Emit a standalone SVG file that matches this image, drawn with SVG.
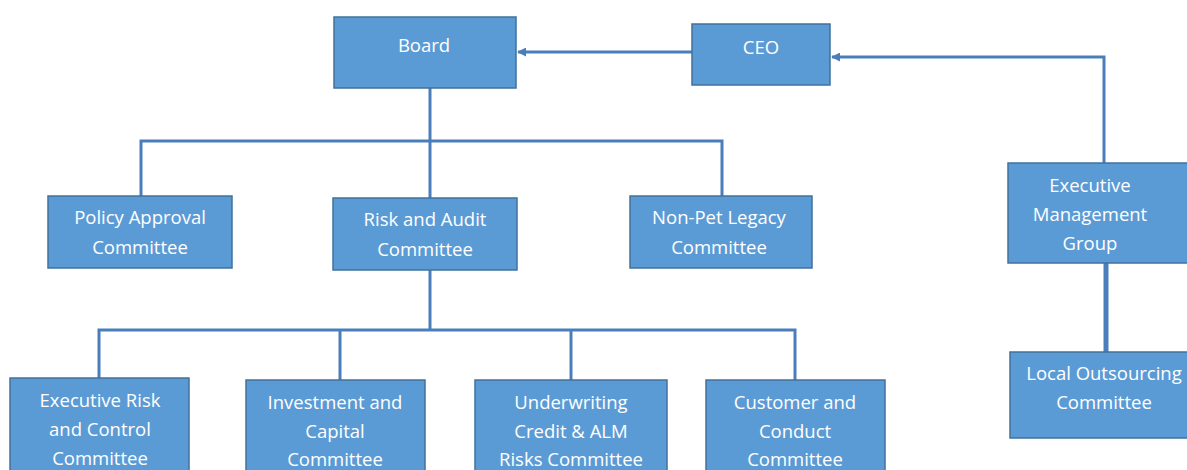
<svg xmlns="http://www.w3.org/2000/svg" width="1187" height="470" viewBox="0 0 1187 470">
  <style>
    .box { fill: #5B9BD5; stroke: #41719C; stroke-width: 1.5; }
    .lbl { fill: #FFFFFF; font-family: "Open Sans", "Liberation Sans", sans-serif; font-size: 18.5px; text-anchor: middle; }
    .wire { fill: none; stroke: #4A7EBB; stroke-width: 3; }
  </style>
  <defs>
    <marker id="head" viewBox="0 0 10 10" refX="9" refY="5" markerWidth="3" markerHeight="3" orient="auto">
      <path d="M0,0 L10,5 L0,10 z" fill="#4A7EBB"/>
    </marker>
  </defs>
  <rect width="1187" height="470" fill="#FFFFFF"/>

  <g id="connectors">
    <path class="wire" d="M692,52 H518" marker-end="url(#head)"/>
    <path class="wire" d="M1104,163 V57 H832" marker-end="url(#head)"/>
    <path class="wire" d="M430,88 V198"/>
    <path class="wire" d="M141,196 V141 H722 V196"/>
    <path class="wire" d="M430,270 V330"/>
    <path class="wire" d="M99,378 V330 H795 V380"/>
    <path class="wire" d="M340,330 V380"/>
    <path class="wire" d="M571,330 V380"/>
    <path class="wire" style="stroke-width:5" d="M1106,263 V352"/>
  </g>

  <g id="board">
    <rect class="box" x="334" y="17" width="182" height="71"/>
    <text class="lbl" x="424" y="52">Board</text>
  </g>
  <g id="ceo">
    <rect class="box" x="692" y="24" width="138" height="61"/>
    <text class="lbl" x="761" y="54">CEO</text>
  </g>
  <g id="policy-approval">
    <rect class="box" x="48" y="196" width="184" height="72"/>
    <text class="lbl" x="140" y="224">Policy Approval</text>
    <text class="lbl" x="140" y="254">Committee</text>
  </g>
  <g id="risk-audit">
    <rect class="box" x="333" y="198" width="184" height="72"/>
    <text class="lbl" x="425" y="226">Risk and Audit</text>
    <text class="lbl" x="425" y="256">Committee</text>
  </g>
  <g id="non-pet-legacy">
    <rect class="box" x="630" y="196" width="182" height="72"/>
    <text class="lbl" x="719" y="224">Non-Pet Legacy</text>
    <text class="lbl" x="719" y="254">Committee</text>
  </g>
  <g id="exec-mgmt-group">
    <rect class="box" x="1008" y="163" width="185" height="100"/>
    <text class="lbl" x="1090" y="192">Executive</text>
    <text class="lbl" x="1090" y="221">Management</text>
    <text class="lbl" x="1090" y="250">Group</text>
  </g>
  <g id="local-outsourcing">
    <rect class="box" x="1010" y="352" width="183" height="86"/>
    <text class="lbl" x="1104" y="380">Local Outsourcing</text>
    <text class="lbl" x="1104" y="409">Committee</text>
  </g>
  <g id="exec-risk-control">
    <rect class="box" x="10" y="378" width="179" height="100"/>
    <text class="lbl" x="100" y="407">Executive Risk</text>
    <text class="lbl" x="100" y="436">and Control</text>
    <text class="lbl" x="100" y="465">Committee</text>
  </g>
  <g id="investment-capital">
    <rect class="box" x="246" y="380" width="179" height="100"/>
    <text class="lbl" x="335" y="409">Investment and</text>
    <text class="lbl" x="335" y="438">Capital</text>
    <text class="lbl" x="335" y="466">Committee</text>
  </g>
  <g id="underwriting-credit-alm">
    <rect class="box" x="475" y="380" width="192" height="100"/>
    <text class="lbl" x="571" y="409">Underwriting</text>
    <text class="lbl" x="571" y="438">Credit &amp; ALM</text>
    <text class="lbl" x="571" y="466">Risks Committee</text>
  </g>
  <g id="customer-conduct">
    <rect class="box" x="706" y="380" width="179" height="100"/>
    <text class="lbl" x="795" y="409">Customer and</text>
    <text class="lbl" x="795" y="438">Conduct</text>
    <text class="lbl" x="795" y="466">Committee</text>
  </g>
</svg>
